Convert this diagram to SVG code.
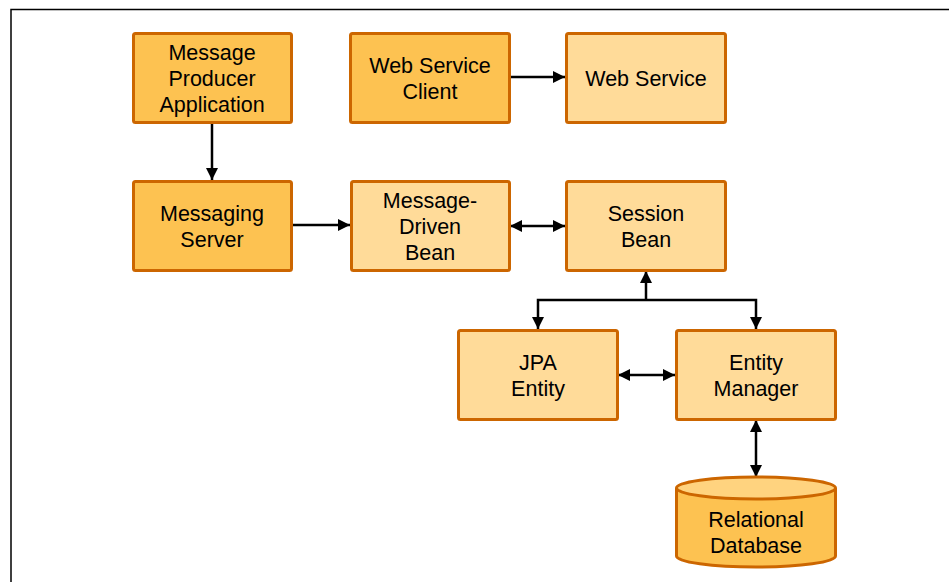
<svg xmlns="http://www.w3.org/2000/svg" width="949" height="583" viewBox="0 0 949 583">
<style>
.dk{fill:#FDC251;stroke:#CC6600;stroke-width:3}
.lt{fill:#FFDB99;stroke:#CC6600;stroke-width:3}
text{font-family:"Liberation Sans",Arial,sans-serif;font-size:21.5px;fill:#000;text-anchor:middle}
.c{fill:none;stroke:#000;stroke-width:2.5}
</style>
<defs>
<marker id="ah" viewBox="0 0 10 10" refX="10" refY="5" markerWidth="4.8" markerHeight="4.8" orient="auto-start-reverse" markerUnits="strokeWidth"><path d="M0,0L10,5L0,10z" fill="#000"/></marker>
</defs>
<rect width="949" height="583" fill="#fff"/>
<path d="M11,582V9.5H949" fill="none" stroke="#000" stroke-width="1.5"/>
<g id="connectors">
<path class="c" d="M212,124V180" marker-end="url(#ah)"/>
<path class="c" d="M511,77H565" marker-end="url(#ah)"/>
<path class="c" d="M293,225H350" marker-end="url(#ah)"/>
<path class="c" d="M510,226H565" marker-start="url(#ah)" marker-end="url(#ah)"/>
<path class="c" d="M646,271V300" marker-start="url(#ah)"/>
<path class="c" d="M646,300H538V329" marker-end="url(#ah)"/>
<path class="c" d="M646,300H756V329" marker-end="url(#ah)"/>
<path class="c" d="M618,375H675" marker-start="url(#ah)" marker-end="url(#ah)"/>
<path class="c" d="M756,420V477" marker-start="url(#ah)" marker-end="url(#ah)"/>
</g>
<g id="mpa"><rect class="dk" x="133.5" y="33.5" width="158" height="89" rx="2"/><text x="212" y="60">Message</text><text x="212" y="86">Producer</text><text x="212" y="112">Application</text></g>
<g id="wsc"><rect class="dk" x="350.5" y="33.5" width="159" height="89" rx="2"/><text x="430" y="73">Web Service</text><text x="430" y="99">Client</text></g>
<g id="ws"><rect class="lt" x="566.5" y="33.5" width="159" height="89" rx="2"/><text x="646" y="86">Web Service</text></g>
<g id="ms"><rect class="dk" x="133.5" y="181.5" width="158" height="89" rx="2"/><text x="212" y="221">Messaging</text><text x="212" y="247">Server</text></g>
<g id="mdb"><rect class="lt" x="351.5" y="181.5" width="158" height="89" rx="2"/><text x="430" y="208">Message-</text><text x="430" y="234">Driven</text><text x="430" y="260">Bean</text></g>
<g id="sb"><rect class="lt" x="566.5" y="181.5" width="159" height="89" rx="2"/><text x="646" y="221">Session</text><text x="646" y="247">Bean</text></g>
<g id="jpa"><rect class="lt" x="458.5" y="330.5" width="159" height="89" rx="2"/><text x="538" y="370">JPA</text><text x="538" y="396">Entity</text></g>
<g id="em"><rect class="lt" x="676.5" y="330.5" width="159" height="89" rx="2"/><text x="756" y="370">Entity</text><text x="756" y="396">Manager</text></g>
<g id="db"><path class="dk" d="M676.5,488V556A79.5,11 0 0 0 835.5,556V488"/><ellipse class="dk" cx="756" cy="488" rx="79.5" ry="11" style="fill:#FFD37F"/><text x="756" y="527">Relational</text><text x="756" y="553">Database</text></g>
</svg>
